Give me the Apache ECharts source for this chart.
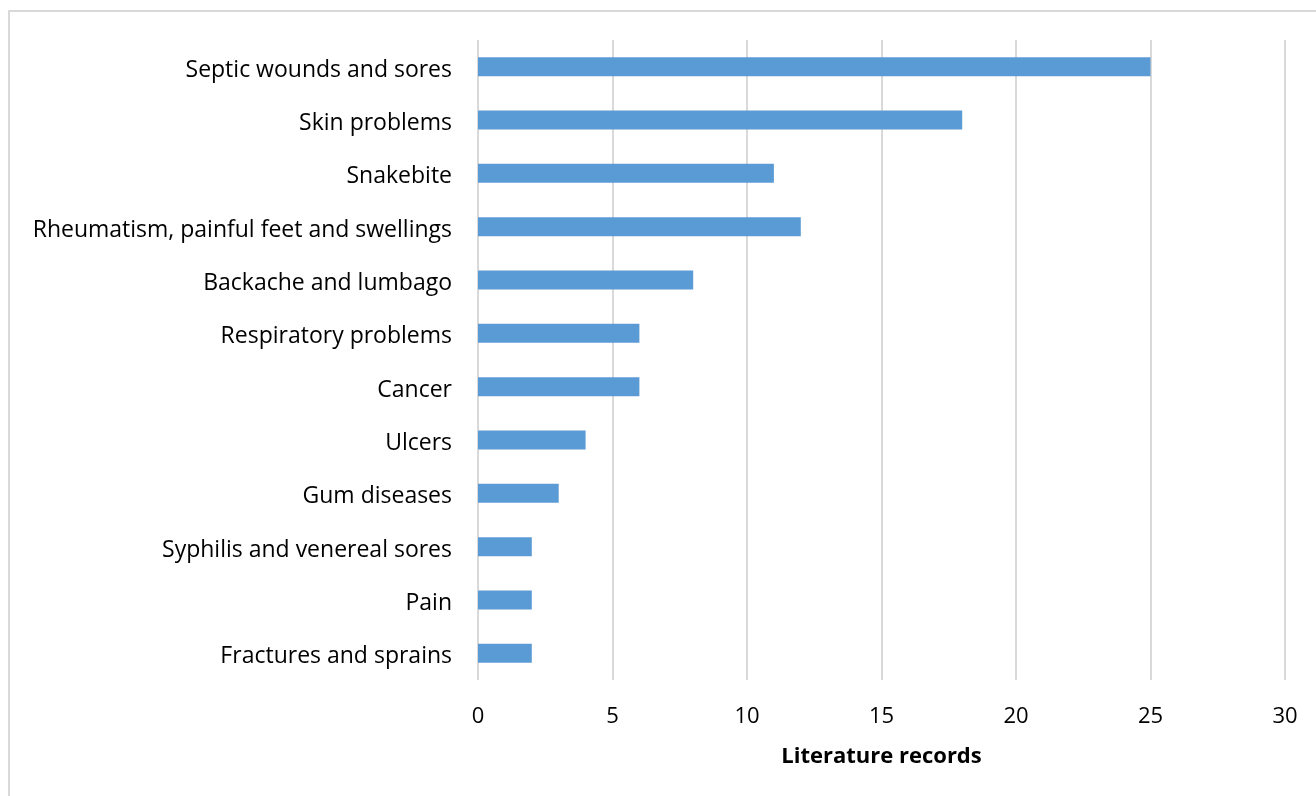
<!DOCTYPE html>
<html lang="en">
<head>
    <meta charset="UTF-8">
    <title>Literature records</title>
    <script src="https://cdn.jsdelivr.net/npm/echarts@6/dist/echarts.min.js"></script>
    <style>
        html, body { margin: 0; padding: 0; background: #fff; }
    </style>
</head>
<body>
    <div id="barDiv" style="width: 1316px;height:796px;"></div>
    <script>
        // categories top to bottom
        var categories = ['Septic wounds and sores', 'Skin problems', 'Snakebite',
            'Rheumatism, painful feet and swellings', 'Backache and lumbago',
            'Respiratory problems', 'Cancer', 'Ulcers', 'Gum diseases',
            'Syphilis and venereal sores', 'Pain', 'Fractures and sprains'];
        var records = [25, 18, 11, 12, 8, 6, 6, 4, 3, 2, 2, 2];
        var xTicks = [0, 30, 5];  // min, max, interval

        var font = 'Open Sans';
        var mychart = echarts.init(document.getElementById('barDiv'));

        var option = {
            animation: false,
            graphic: [{
                type: 'rect',
                shape: { x: 9, y: 11, width: 1330, height: 810 },
                style: { fill: 'none', stroke: '#d9d9d9', lineWidth: 2 }
            }],
            grid: { left: 478, right: 31, top: 40, bottom: 116 },
            xAxis: {
                type: 'value',
                min: xTicks[0],
                max: xTicks[1],
                interval: xTicks[2],
                axisLine: { show: false },
                axisTick: { show: false },
                axisLabel: { color: '#000', fontSize: 22, fontFamily: font, margin: 26 },
                splitLine: { lineStyle: { color: '#d9d9d9', width: 2 } },
                name: 'Literature records',
                nameLocation: 'middle',
                nameGap: 66,
                nameTextStyle: { color: '#000', fontSize: 22, fontWeight: 'bold', fontFamily: font }
            },
            yAxis: {
                type: 'category',
                inverse: true,
                data: categories,
                axisLine: { show: false },
                axisTick: { show: false },
                axisLabel: {
                    margin: 26,
                    formatter: function (v) { return '{c|' + v + '}'; },
                    rich: {
                        c: { color: '#000', fontSize: 23, fontFamily: font, padding: [7, 0, 0, 0] }
                    }
                }
            },
            series: [{
                type: 'bar',
                data: records,
                barWidth: 19,
                itemStyle: { color: '#5b9bd5' }
            }]
        };

        mychart.setOption(option, true);
    </script>
</body>
</html>
